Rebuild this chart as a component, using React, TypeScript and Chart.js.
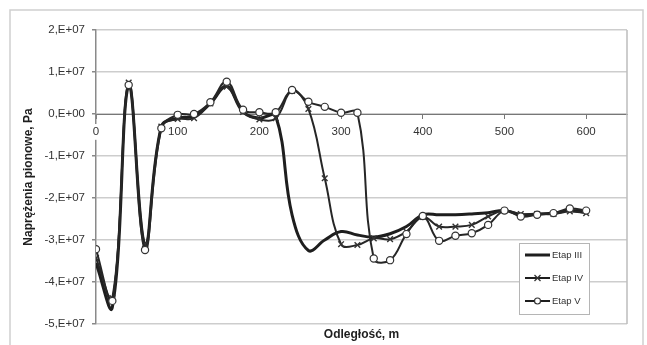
import React, { useEffect, useRef } from "react";
import { Chart, registerables } from "chart.js";

Chart.register(...registerables);

// Distance along the section, m
const distances = [
  0, 20, 40, 60, 80, 100, 120, 140, 160, 180, 200, 220, 240, 260, 280, 300,
  320, 340, 360, 380, 400, 420, 440, 460, 480, 500, 520, 540, 560, 580, 600,
];

// Vertical stresses, Pa
const etapIII = [
  -3.55e7, -4.6e7, 0.68e7, -3.12e7, -0.3e7, -0.1e7, -0.05e7, 0.25e7, 0.66e7, 0.05e7,
  -0.1e7, -0.05e7, -2.4e7, -3.25e7, -3.0e7, -2.8e7, -2.88e7, -2.93e7, -2.85e7, -2.68e7,
  -2.4e7, -2.4e7, -2.4e7, -2.38e7, -2.35e7, -2.3e7, -2.4e7, -2.38e7, -2.36e7, -2.3e7,
  -2.34e7,
];

const etapIV = [
  -3.43e7, -4.38e7, 0.75e7, -3.1e7, -0.3e7, -0.12e7, -0.1e7, 0.25e7, 0.65e7, 0.05e7,
  -0.13e7, -0.1e7, 0.55e7, 0.12e7, -1.53e7, -3.1e7, -3.12e7, -2.96e7, -2.98e7, -2.8e7,
  -2.45e7, -2.68e7, -2.68e7, -2.64e7, -2.44e7, -2.3e7, -2.38e7, -2.38e7, -2.38e7, -2.32e7,
  -2.36e7,
];

const etapV = [
  -3.22e7, -4.45e7, 0.69e7, -3.24e7, -0.34e7, -0.02e7, 0.0e7, 0.28e7, 0.77e7, 0.1e7,
  0.04e7, 0.04e7, 0.57e7, 0.29e7, 0.17e7, 0.03e7, 0.03e7, -3.44e7, -3.48e7, -2.86e7,
  -2.43e7, -3.02e7, -2.9e7, -2.84e7, -2.64e7, -2.3e7, -2.44e7, -2.4e7, -2.36e7, -2.25e7,
  -2.3e7,
];

const seriesNames = ["Etap III", "Etap IV", "Etap V"];
const yTickValues = [2e7, 1e7, 0, -1e7, -2e7, -3e7, -4e7, -5e7];
const xTickValues = [0, 100, 200, 300, 400, 500, 600];

const FONT = "'Liberation Sans', Arial, sans-serif";
const INK = "#1e1e1e";

const formatSci = (v: number) => {
  if (v === 0) return "0,E+00";
  return `${Math.round(v / 1e7)},E+07`;
};

const toPoints = (ys: number[]) => distances.map((x, i) => ({ x, y: ys[i] }));

// Outer frame, plot-area border and the boxed legend
const decorations = {
  id: "decorations",
  beforeDraw(chart: any) {
    const { ctx, width, height } = chart;
    ctx.save();
    ctx.fillStyle = "#ffffff";
    ctx.fillRect(0, 0, width, height);
    ctx.strokeStyle = "#cfcfcf";
    ctx.lineWidth = 1.5;
    ctx.strokeRect(10, 10, 633, 345);
    ctx.restore();
  },
  afterDraw(chart: any) {
    const { ctx, chartArea } = chart;
    ctx.save();
    ctx.strokeStyle = "#bdbdbd";
    ctx.lineWidth = 1.5;
    ctx.beginPath();
    ctx.moveTo(chartArea.right, chartArea.top);
    ctx.lineTo(chartArea.right, chartArea.bottom);
    ctx.stroke();

    // legend box
    const lx = 519, ly = 243, lw = 70, lh = 71;
    ctx.fillStyle = "#ffffff";
    ctx.fillRect(lx, ly, lw, lh);
    ctx.strokeStyle = "#b5b5b5";
    ctx.lineWidth = 1;
    ctx.strokeRect(lx + 0.5, ly + 0.5, lw, lh);

    const rows = [255, 278, 301];
    ctx.font = `9.5px ${FONT}`;
    ctx.textBaseline = "middle";
    ctx.textAlign = "left";
    rows.forEach((ry, i) => {
      ctx.strokeStyle = INK;
      ctx.lineWidth = i === 0 ? 3 : 2;
      ctx.beginPath();
      ctx.moveTo(525, ry);
      ctx.lineTo(550, ry);
      ctx.stroke();
      const cx = 537.5;
      if (i === 1) {
        ctx.lineWidth = 1.3;
        ctx.strokeStyle = "#333";
        ctx.beginPath();
        ctx.moveTo(cx - 3, ry - 3);
        ctx.lineTo(cx + 3, ry + 3);
        ctx.moveTo(cx - 3, ry + 3);
        ctx.lineTo(cx + 3, ry - 3);
        ctx.stroke();
      } else if (i === 2) {
        ctx.fillStyle = "#ffffff";
        ctx.strokeStyle = "#333";
        ctx.lineWidth = 1.2;
        ctx.beginPath();
        ctx.arc(cx, ry, 3, 0, Math.PI * 2);
        ctx.fill();
        ctx.stroke();
      }
      ctx.fillStyle = "#333";
      ctx.fillText(seriesNames[i], 552, ry + 0.5);
    });
    ctx.restore();
  },
};

export default function App() {
  const canvasRef = useRef<HTMLCanvasElement | null>(null);

  useEffect(() => {
    const canvas = canvasRef.current;
    if (!canvas) return;
    Chart.defaults.font.family = FONT;

    const chart = new Chart(canvas, {
      type: "line",
      data: {
        datasets: [
          {
            label: seriesNames[0],
            data: toPoints(etapIII),
            borderColor: INK,
            borderWidth: 3,
            pointRadius: 0,
            tension: 0.4,
            order: 3,
          },
          {
            label: seriesNames[1],
            data: toPoints(etapIV),
            borderColor: "#262626",
            borderWidth: 2,
            pointStyle: "crossRot",
            pointRadius: 4,
            pointBorderWidth: 1.4,
            pointBorderColor: "#333",
            pointBackgroundColor: "#fff",
            tension: 0.4,
            order: 2,
          },
          {
            label: seriesNames[2],
            data: toPoints(etapV),
            borderColor: "#262626",
            borderWidth: 2,
            pointStyle: "circle",
            pointRadius: 3.6,
            pointBorderWidth: 1.2,
            pointBorderColor: "#333",
            pointBackgroundColor: "#fff",
            tension: 0.4,
            order: 1,
          },
        ],
      },
      options: {
        responsive: false,
        animation: false,
        layout: { padding: { left: 0, top: 30, right: 20, bottom: 0 } },
        plugins: {
          legend: { display: false },
          tooltip: { enabled: false },
        },
        scales: {
          x: {
            type: "linear",
            position: { y: 0 } as any,
            min: 0,
            max: 650,
            afterBuildTicks: (scale: any) => {
              scale.ticks = xTickValues.map((value) => ({ value }));
            },
            ticks: {
              padding: 7,
              color: "#333",
              font: { size: 11.5 },
              maxRotation: 0,
              z: 1,
              showLabelBackdrop: true,
              backdropColor: "#ffffff",
              backdropPadding: 1,
              callback: (v: any) => String(v),
            },
            grid: {
              drawOnChartArea: false,
              drawTicks: true,
              tickLength: 4,
              tickColor: "#777",
            },
            border: { color: "#777", width: 1 },
          },
          xTitle: {
            type: "linear",
            position: "bottom",
            min: 0,
            max: 650,
            grid: { display: false },
            border: { display: false },
            ticks: { display: false },
            title: {
              display: true,
              text: "Odległość, m",
              color: INK,
              font: { size: 12, weight: "bold" },
              padding: { top: 0, bottom: 3 },
            },
            afterFit: (scale: any) => {
              scale.height = 21;
            },
          },
          y: {
            type: "linear",
            position: "left",
            min: -5e7,
            max: 2e7,
            afterBuildTicks: (scale: any) => {
              scale.ticks = yTickValues.map((value) => ({ value }));
            },
            ticks: {
              padding: 7,
              color: "#333",
              font: { size: 11.5 },
              callback: (v: any) => formatSci(Number(v)),
            },
            grid: {
              color: "#cdcdcd",
              lineWidth: 1.5,
              tickLength: 4,
              tickColor: "#888",
            },
            border: { color: "#8a8a8a", width: 1.5 },
            title: {
              display: true,
              text: "Naprężenia pionowe, Pa",
              color: INK,
              font: { size: 12, weight: "bold" },
              padding: { top: 21, bottom: 0 },
            },
            afterFit: (scale: any) => {
              scale.width = 96;
            },
          },
        },
      },
      plugins: [decorations],
    });

    return () => chart.destroy();
  }, []);

  return (
    <div
      style={{
        position: "fixed",
        left: 0,
        top: 0,
        width: 647,
        height: 345,
        background: "#fff",
      }}
    >
      <canvas ref={canvasRef} width={647} height={345} style={{ display: "block" }} />
    </div>
  );
}
